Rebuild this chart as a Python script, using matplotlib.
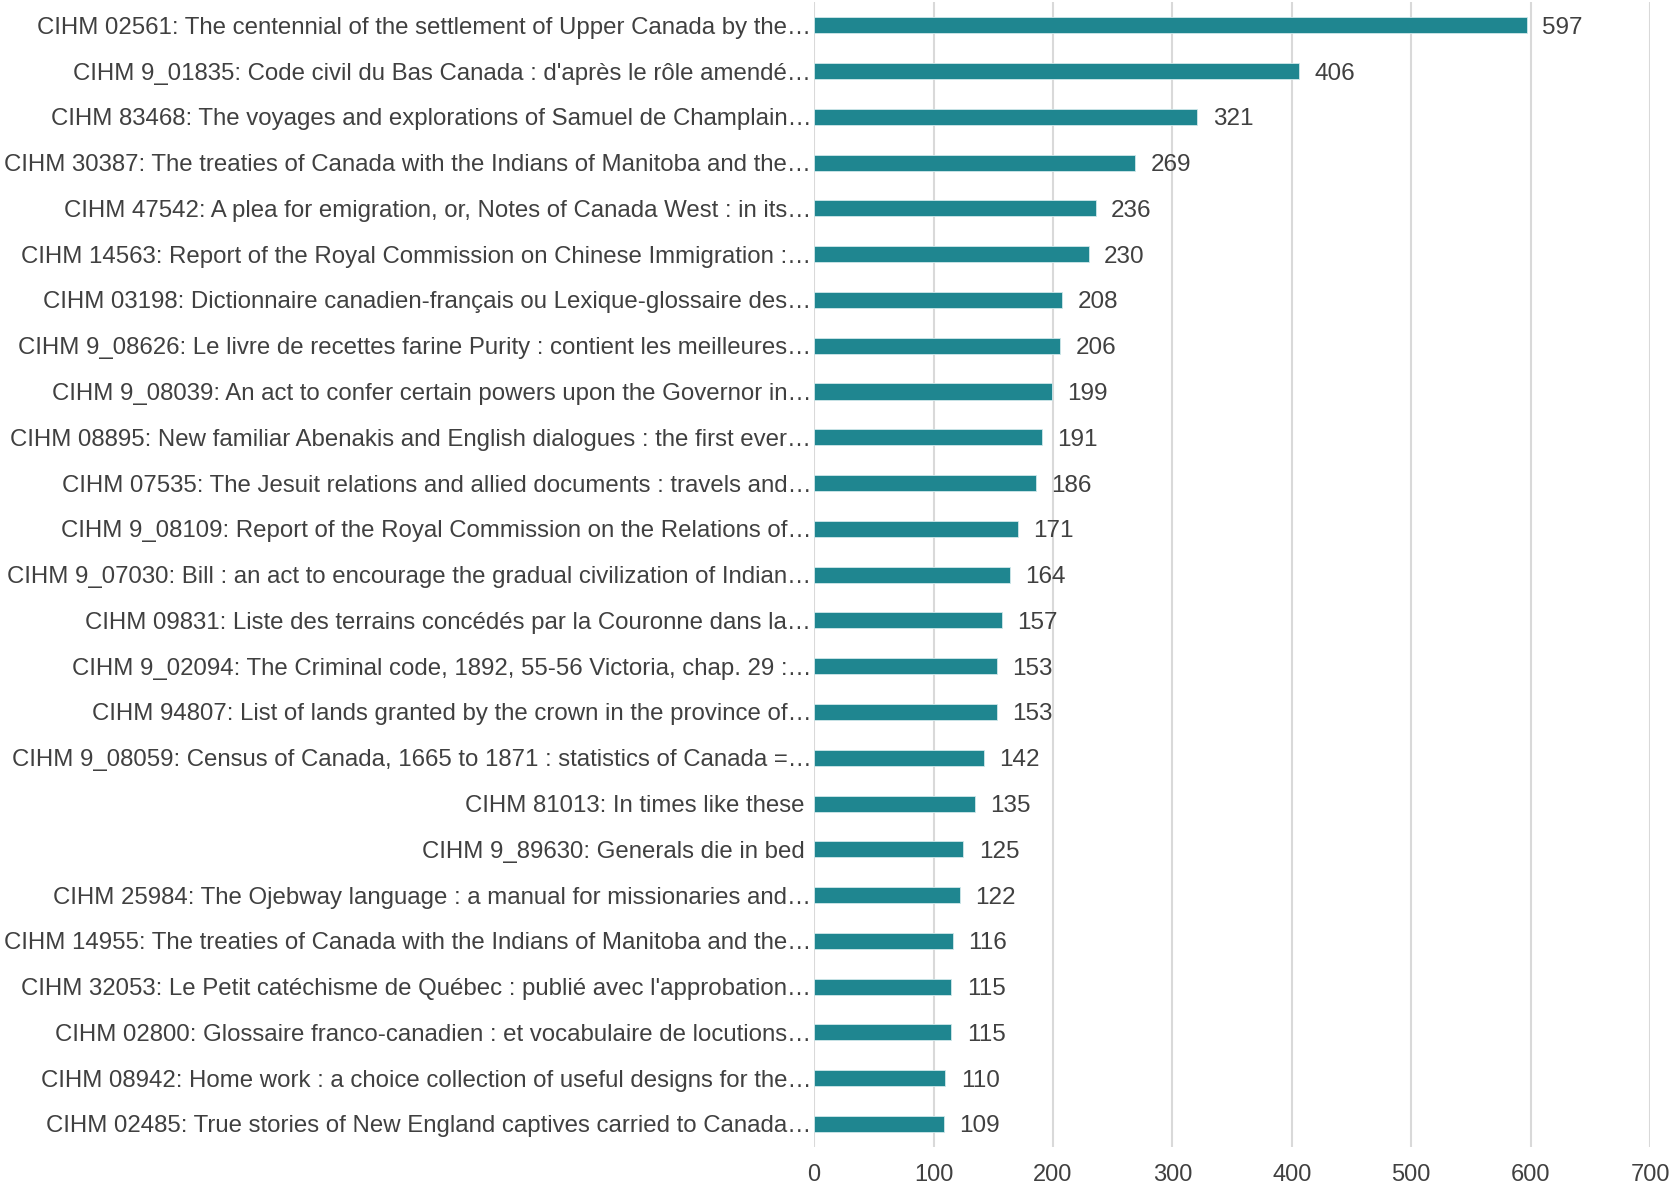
import matplotlib.pyplot as plt
import numpy as np

plt.rcParams['font.family'] = ['Liberation Sans', 'DejaVu Sans']

titles = [
    "CIHM 02561: The centennial of the settlement of Upper Canada by the…",
    "CIHM 9_01835: Code civil du Bas Canada : d'après le rôle amendé…",
    "CIHM 83468: The voyages and explorations of Samuel de Champlain…",
    "CIHM 30387: The treaties of Canada with the Indians of Manitoba and the…",
    "CIHM 47542: A plea for emigration, or, Notes of Canada West : in its…",
    "CIHM 14563: Report of the Royal Commission on Chinese Immigration :…",
    "CIHM 03198: Dictionnaire canadien-français ou Lexique-glossaire des…",
    "CIHM 9_08626: Le livre de recettes farine Purity : contient les meilleures…",
    "CIHM 9_08039: An act to confer certain powers upon the Governor in…",
    "CIHM 08895: New familiar Abenakis and English dialogues : the first ever…",
    "CIHM 07535: The Jesuit relations and allied documents : travels and…",
    "CIHM 9_08109: Report of the Royal Commission on the Relations of…",
    "CIHM 9_07030: Bill : an act to encourage the gradual civilization of Indian…",
    "CIHM 09831: Liste des terrains concédés par la Couronne dans la…",
    "CIHM 9_02094: The Criminal code, 1892, 55-56 Victoria, chap. 29 :…",
    "CIHM 94807: List of lands granted by the crown in the province of…",
    "CIHM 9_08059: Census of Canada, 1665 to 1871 : statistics of Canada =…",
    "CIHM 81013: In times like these ",
    "CIHM 9_89630: Generals die in bed ",
    "CIHM 25984: The Ojebway language : a manual for missionaries and…",
    "CIHM 14955: The treaties of Canada with the Indians of Manitoba and the…",
    "CIHM 32053: Le Petit catéchisme de Québec : publié avec l'approbation…",
    "CIHM 02800: Glossaire franco-canadien : et vocabulaire de locutions…",
    "CIHM 08942: Home work : a choice collection of useful designs for the…",
    "CIHM 02485: True stories of New England captives carried to Canada…",
]
counts = [597, 406, 321, 269, 236, 230, 208, 206, 199, 191, 186, 171, 164,
          157, 153, 153, 142, 135, 125, 122, 116, 115, 115, 110, 109]
xticks = [0, 100, 200, 300, 400, 500, 600, 700]

text_color = '#404040'
bar_color = '#1f8690'

fig = plt.figure(figsize=(16.73, 11.86), dpi=100)
ax = fig.add_axes([0.4866, 0.033, 0.4997, 0.965])

y = np.arange(len(titles))
ax.barh(y, counts, height=0.35, color=bar_color, edgecolor='#d0e8ea', linewidth=0.6, zorder=3)

for yi, v in zip(y, counts):
    ax.annotate(str(v), xy=(v, yi), xytext=(11, 0), textcoords='offset points',
                ha='left', va='center_baseline', fontsize=17.5, color=text_color)

ax.set_yticks(y)
ax.set_yticklabels(titles, fontsize=17.3, color=text_color, va='center_baseline')
ax.set_ylim(len(titles) - 0.5, -0.5)
ax.set_xlim(0, 700)
ax.set_xticks(xticks)
ax.set_xticklabels([str(t) for t in xticks], fontsize=17, color=text_color)
ax.tick_params(axis='y', length=0, pad=2)
ax.tick_params(axis='x', length=0, pad=12)

ax.grid(axis='x', color='#d9d9d9', linewidth=1.5, zorder=0)
for s in ax.spines.values():
    s.set_visible(False)

plt.savefig('out.png', dpi=100)
